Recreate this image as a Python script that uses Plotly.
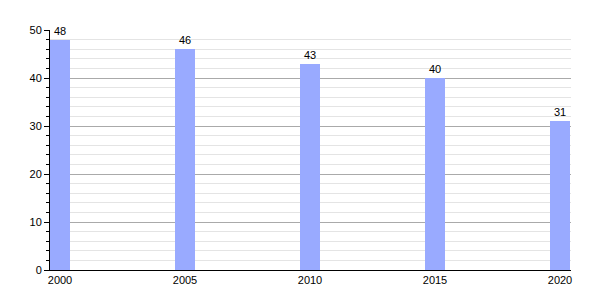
import plotly.graph_objects as go

years = [2000, 2005, 2010, 2015, 2020]
values = [48, 46, 43, 40, 31]
tick_vals = [2000, 2005, 2010, 2015, 2020]

fig = go.Figure(go.Bar(
    x=years, y=values, width=0.8,
    marker=dict(color="#99AAFF", line=dict(width=0)),
    text=[str(v) for v in values], textposition="outside",
    textfont=dict(size=11, color="black", family="Liberation Sans"),
    cliponaxis=False,
))

fig.update_layout(
    width=600, height=300,
    margin=dict(l=50, r=29, t=30, b=30),
    plot_bgcolor="white", paper_bgcolor="white",
    font=dict(family="Liberation Sans", size=11, color="black"),
    showlegend=False,
    bargap=0,
)
fig.update_xaxes(
    range=[1999.6, 2020.44], tickvals=tick_vals, ticktext=[str(t) for t in tick_vals],
    showgrid=False, showline=True, linecolor="black", linewidth=1,
    ticks="", zeroline=False,
)
fig.update_yaxes(
    range=[0, 50], dtick=10, showgrid=True, gridcolor="#aaaaaa", gridwidth=1,
    showline=True, linecolor="black", linewidth=1,
    ticks="outside", ticklen=5, tickcolor="black",
    minor=dict(dtick=2, showgrid=True, gridcolor="#e4e4e4", ticks="outside", ticklen=3, tickcolor="black"),
    zeroline=False,
)

fig.write_html("out.html")
